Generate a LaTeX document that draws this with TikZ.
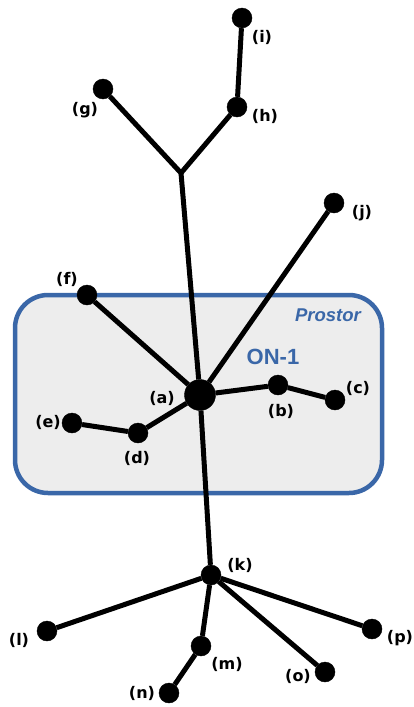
\documentclass[tikz,border=0pt]{standalone}
\usepackage{fontspec}
\setmainfont{DejaVu Sans}
\newfontfamily\arialfont{Liberation Sans}
\definecolor{roomblue}{HTML}{3A67A8}
\definecolor{roomgray}{HTML}{EDEDED}
\begin{document}
\begin{tikzpicture}
[
	x=1pt,y=-1pt,
	dot/.style={circle,draw,fill,inner sep=0pt,minimum size=20pt},
	bigdot/.style={circle,draw,fill,inner sep=0pt,minimum size=31pt},
	lbl/.style={font=\fontsize{16}{16}\selectfont\bfseries,inner sep=0pt},
	edge/.style={line width=5pt},
	scale=1
]

	\useasboundingbox (0,0) rectangle (414,707);

	\draw[roomblue,fill=roomgray,line width=4.5pt,rounded corners=33pt] (15,295) rectangle (382,493);
	\node[roomblue,font=\arialfont\fontsize{18.5}{18.5}\selectfont\bfseries\itshape] at (328,315) (prostor) {Prostor};
	\node[roomblue,font=\arialfont\fontsize{22}{22}\selectfont\bfseries] at (273,357) (on) {ON-1};

	\node[bigdot] at (200,395) (a) {};
	\node[dot] at (278,385) (b) {};
	\node[dot] at (335,400) (c) {};
	\node[dot] at (138,433) (d) {};
	\node[dot] at (72,423) (e) {};
	\node[dot] at (87,295) (f) {};
	\node[dot] at (103,89) (g) {};
	\node[dot] at (237,107) (h) {};
	\node[dot] at (242,18) (i) {};
	\node[dot] at (334,203) (j) {};
	\node[dot] at (211,575) (k) {};
	\node[dot] at (47,631) (l) {};
	\node[dot] at (201,646) (m) {};
	\node[dot] at (169,693) (n) {};
	\node[dot] at (325,672) (o) {};
	\node[dot] at (372,629) (p) {};
	\coordinate (fork) at (181,173);

	\draw[edge] (a) -- (fork);
	\draw[edge] (fork) -- (g);
	\draw[edge] (fork) -- (h);
	\draw[edge] (h) -- (i);
	\draw[edge] (a) -- (j);
	\draw[edge] (a) -- (f);
	\draw[edge] (a) -- (b);
	\draw[edge] (b) -- (c);
	\draw[edge] (a) -- (d);
	\draw[edge] (d) -- (e);
	\draw[edge] (a) -- (k);
	\draw[edge] (k) -- (l);
	\draw[edge] (k) -- (m);
	\draw[edge] (m) -- (n);
	\draw[edge] (k) -- (o);
	\draw[edge] (k) -- (p);

	\node[lbl] at (162,398) (la) {(a)};
	\node[lbl] at (281,411) (lb) {(b)};
	\node[lbl] at (358,388) (lc) {(c)};
	\node[lbl] at (137,458) (ld) {(d)};
	\node[lbl] at (48,422) (le) {(e)};
	\node[lbl] at (67,279) (lf) {(f)};
	\node[lbl] at (85,110) (lg) {(g)};
	\node[lbl] at (265,116) (lh) {(h)};
	\node[lbl] at (262,37) (li) {(i)};
	\node[lbl] at (362,213) (lj) {(j)};
	\node[lbl] at (240,565) (lk) {(k)};
	\node[lbl] at (19,640) (ll) {(l)};
	\node[lbl] at (227,664) (lm) {(m)};
	\node[lbl] at (142,693) (ln) {(n)};
	\node[lbl] at (298,676) (lo) {(o)};
	\node[lbl] at (400,638) (lp) {(p)};

\end{tikzpicture}
\end{document}
